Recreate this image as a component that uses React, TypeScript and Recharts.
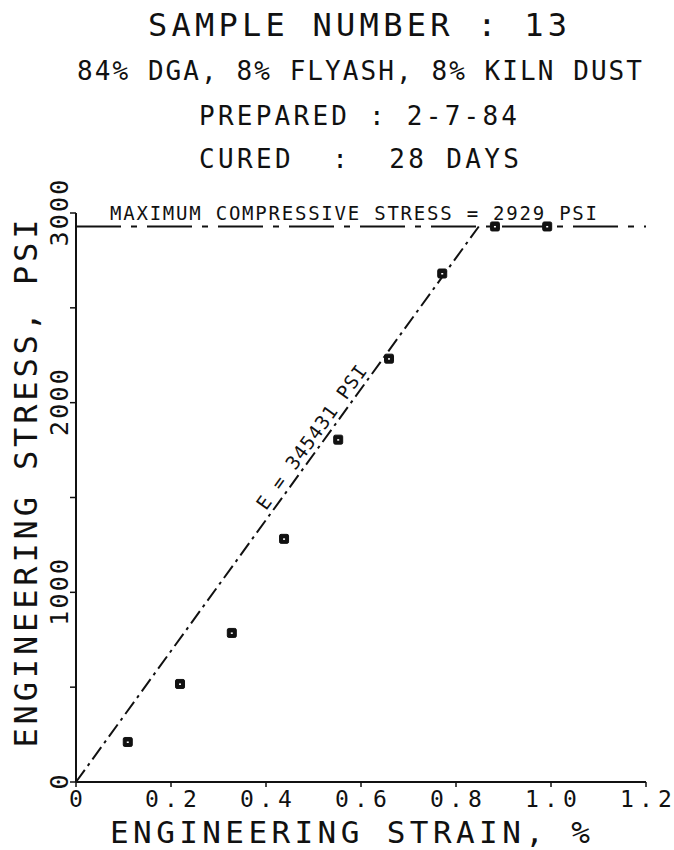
import React from "react";
import { ComposedChart, XAxis, YAxis, Scatter, ReferenceLine } from "recharts";

// test points
const strain = [0.109, 0.219, 0.328, 0.438, 0.552, 0.659, 0.771, 0.882, 0.992];
const stress = [211, 517, 786, 1282, 1805, 2232, 2681, 2929, 2929];

const strainTicks = [0, 0.2, 0.4, 0.6, 0.8, 1.0, 1.2];
const stressTicks = [0, 500, 1000, 1500, 2000, 2500, 3000];
const stressLabels = [0, 1000, 2000, 3000];

const maxStress = 2929;
const modulus = 345431;
const modulusStrain = [0, 0.848];
const modulusStress = [0, 2929];

const titleLines = [
  "SAMPLE NUMBER : 13",
  "84% DGA, 8% FLYASH, 8% KILN DUST",
  "PREPARED : 2-7-84",
  "CURED  :  28 DAYS",
];

const FONT = '"DejaVu Sans Mono", monospace';
const INK = "#111";

const points = strain.map((s, i) => ({ strain: s, stress: stress[i] }));
const modulusSegment = modulusStrain.map((s, i) => ({ x: s, y: modulusStress[i] }));

// layout of the four header lines: x start, baseline, font size, width
const titleLayout = [
  { x: 148, y: 36, size: 32, len: 419 },
  { x: 77, y: 80, size: 26, len: 565 },
  { x: 199, y: 125, size: 26, len: 318 },
  { x: 199, y: 168, size: 26, len: 320 },
];

const fmtStrain = (v: number) => (v === 0 ? "0" : v.toFixed(1));

const SquareDot = (props: any) => {
  const { cx, cy } = props;
  if (cx == null || cy == null) return <g />;
  return (
    <g>
      <rect x={cx - 4.5} y={cy - 4.5} width={9} height={9} rx={1.5} fill={INK} stroke={INK} strokeWidth={1} />
      <rect x={cx - 1} y={cy - 0.5} width={2} height={1.5} fill="#fff" />
    </g>
  );
};

const XTick = (props: any) => {
  const { x, y, payload } = props;
  const label = fmtStrain(payload.value);
  return (
    <text
      x={x}
      y={y + 18}
      textAnchor="middle"
      fontFamily={FONT}
      fontSize={23}
      fill={INK}
      textLength={label.length > 1 ? label.length * 17.3 : undefined}
      lengthAdjust="spacing"
    >
      {label}
    </text>
  );
};

const YTick = (props: any) => {
  const { x, y, payload } = props;
  if (!stressLabels.includes(payload.value)) return <g />;
  const label = String(payload.value);
  return (
    <text
      x={x}
      y={y}
      transform={`rotate(-90 ${x} ${y})`}
      textAnchor="middle"
      fontFamily={FONT}
      fontSize={25}
      fill={INK}
      textLength={label.length > 1 ? label.length * 16.7 : undefined}
      lengthAdjust="spacing"
    >
      {label}
    </text>
  );
};

const getBox = (props: any) => {
  const vb = props.viewBox || {};
  if (vb.x1 != null) {
    return {
      x: Math.min(vb.x1, vb.x2),
      y: Math.min(vb.y1, vb.y2),
      width: Math.abs(vb.x2 - vb.x1),
      height: Math.abs(vb.y2 - vb.y1),
    };
  }
  return { x: vb.x || 0, y: vb.y || 0, width: vb.width || 0, height: vb.height || 0 };
};

const XLabel = (props: any) => {
  const { x, y, width } = getBox(props);
  return (
    <text
      x={x + width / 2 - 11}
      y={y + 61}
      textAnchor="middle"
      fontFamily={FONT}
      fontSize={31}
      fill={INK}
      textLength={480}
      lengthAdjust="spacing"
    >
      ENGINEERING STRAIN, %
    </text>
  );
};

const YLabel = (props: any) => {
  const { x, y, height } = getBox(props);
  const cx = x + 37;
  const cy = y + height / 2 - 14;
  return (
    <text
      x={cx}
      y={cy}
      transform={`rotate(-90 ${cx} ${cy})`}
      textAnchor="middle"
      fontFamily={FONT}
      fontSize={32}
      fill={INK}
      textLength={528}
      lengthAdjust="spacing"
    >
      ENGINEERING STRESS, PSI
    </text>
  );
};

const MaxLabel = (props: any) => {
  const { x, y } = getBox(props);
  return (
    <text
      x={x + 34}
      y={y - 6}
      fontFamily={FONT}
      fontSize={19}
      fill={INK}
      textLength={487}
      lengthAdjust="spacing"
    >
      {`MAXIMUM COMPRESSIVE STRESS = ${maxStress} PSI`}
    </text>
  );
};

const ModulusLabel = (props: any) => {
  const { x, y, width, height } = getBox(props);
  const len = Math.sqrt(width * width + height * height) || 1;
  const angle = (-Math.atan2(height, width) * 180) / Math.PI;
  const t = 0.608;
  // point along the line, pushed 5px to its upper-left side
  const px = x + t * width - (5 * height) / len;
  const py = y + height - t * height - (5 * width) / len;
  return (
    <text
      x={px}
      y={py}
      transform={`rotate(${angle} ${px} ${py})`}
      textAnchor="middle"
      fontFamily={FONT}
      fontSize={19}
      fill={INK}
      textLength={173}
      lengthAdjust="spacing"
    >
      {`E = ${modulus} PSI`}
    </text>
  );
};

export default function App() {
  return (
    <div style={{ position: "absolute", left: 0, top: 0, width: 674, height: 850, background: "#fff" }}>
      <svg
        width={674}
        height={200}
        style={{ position: "absolute", left: 0, top: 0, pointerEvents: "none" }}
      >
        {titleLines.map((line, i) => (
          <text
            key={i}
            x={titleLayout[i].x}
            y={titleLayout[i].y}
            fontFamily={FONT}
            fontSize={titleLayout[i].size}
            fill={INK}
            textLength={titleLayout[i].len}
            lengthAdjust="spacing"
            style={{ whiteSpace: "pre" }}
          >
            {line}
          </text>
        ))}
      </svg>
      <ComposedChart
        width={674}
        height={850}
        data={points}
        margin={{ top: 213, right: 28, bottom: 28, left: 0 }}
      >
        <XAxis
          type="number"
          dataKey="strain"
          domain={[0, 1.2]}
          ticks={strainTicks}
          interval={0}
          tickSize={5}
          height={40}
          axisLine={{ stroke: INK, strokeWidth: 2 }}
          tickLine={{ stroke: INK, strokeWidth: 1.5 }}
          tick={<XTick />}
          label={<XLabel />}
        />
        <YAxis
          type="number"
          domain={[0, 3000]}
          ticks={stressTicks}
          interval={0}
          width={76}
          tickSize={6}
          axisLine={{ stroke: INK, strokeWidth: 2 }}
          tickLine={{ stroke: INK, strokeWidth: 1.5 }}
          tick={<YTick />}
          label={<YLabel />}
        />
        <ReferenceLine
          y={maxStress}
          stroke={INK}
          strokeWidth={2}
          strokeDasharray="45 10 6 10"
          label={<MaxLabel />}
        />
        <ReferenceLine
          segment={modulusSegment}
          stroke={INK}
          strokeWidth={2}
          strokeDasharray="15 5 3 5"
          label={<ModulusLabel />}
        />
        <Scatter
          dataKey="stress"
          data={points}
          shape={<SquareDot />}
          isAnimationActive={false}
        />
      </ComposedChart>
    </div>
  );
}
